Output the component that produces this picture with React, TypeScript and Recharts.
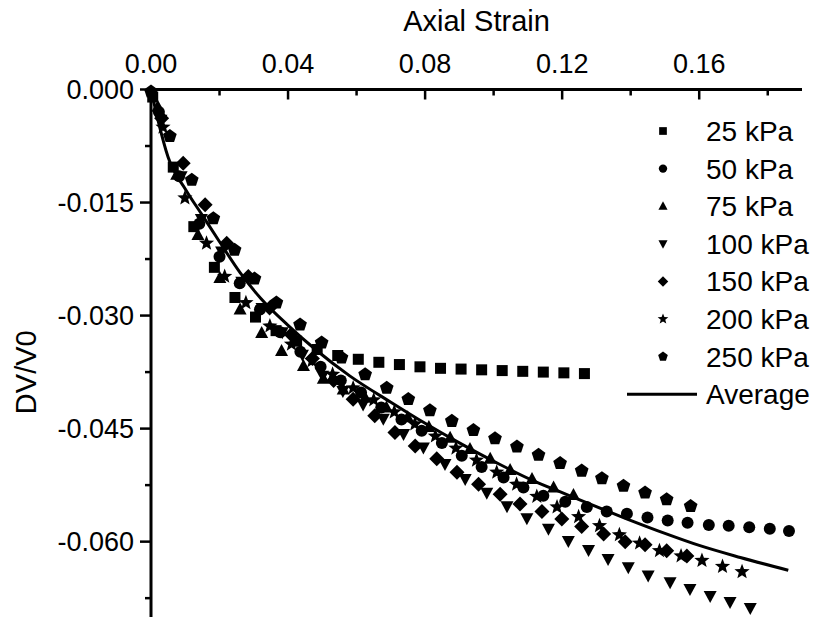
import { Label, Legend, Scatter, ScatterChart, XAxis, YAxis } from 'recharts';

const FONT = '"Liberation Sans", Arial, sans-serif';

// [axial strain, DV/V0]
const P25 = [
  [0.0005, -0.001], [0.0065, -0.0103], [0.0125, -0.0182], [0.0185, -0.0236], [0.0245, -0.0276],
  [0.0305, -0.0302], [0.0365, -0.032], [0.0425, -0.0334], [0.0485, -0.0345], [0.0545, -0.0353],
  [0.0605, -0.0358], [0.0665, -0.0362], [0.0725, -0.0365], [0.0785, -0.0368], [0.0845, -0.037],
  [0.0905, -0.0371], [0.0965, -0.0372], [0.1025, -0.0373], [0.1085, -0.0374], [0.1145, -0.0375],
  [0.1205, -0.0376], [0.1265, -0.0377],
];

const P50 = [
  [0.0023, -0.003], [0.0082, -0.0115], [0.0141, -0.0178], [0.02, -0.0222], [0.0259, -0.0257],
  [0.0318, -0.0292], [0.0377, -0.0322], [0.0436, -0.0348], [0.0495, -0.0368], [0.0554, -0.0386],
  [0.0613, -0.0402], [0.0672, -0.0422], [0.0731, -0.0438], [0.079, -0.0453], [0.0849, -0.0469],
  [0.0907, -0.0486], [0.0965, -0.0501], [0.1029, -0.0515], [0.1087, -0.0528], [0.1145, -0.0539],
  [0.1209, -0.0547], [0.1272, -0.0554], [0.133, -0.056], [0.1389, -0.0563], [0.1449, -0.0568],
  [0.1508, -0.0572], [0.1566, -0.0575], [0.1628, -0.0578], [0.1686, -0.0579], [0.1746, -0.0581],
  [0.1806, -0.0583], [0.1862, -0.0586],
];

const P75 = [
  [0.002, -0.0023], [0.0075, -0.0113], [0.0137, -0.0193], [0.0201, -0.025], [0.026, -0.0292],
  [0.0323, -0.0323], [0.0381, -0.0347], [0.0445, -0.0367], [0.0503, -0.0384], [0.0561, -0.0398],
  [0.0625, -0.0409], [0.0687, -0.0422], [0.0749, -0.0435], [0.0811, -0.0448], [0.0873, -0.0462],
  [0.0931, -0.0477], [0.099, -0.049], [0.1048, -0.0505], [0.1112, -0.0517], [0.1175, -0.0528],
  [0.1233, -0.0538],
];

const P100 = [
  [0.0029, -0.004], [0.0088, -0.0115], [0.0147, -0.0172], [0.0206, -0.0215], [0.0265, -0.0255],
  [0.0324, -0.029], [0.0383, -0.0322], [0.0442, -0.0352], [0.0501, -0.038], [0.056, -0.04],
  [0.0619, -0.0418], [0.0678, -0.0437], [0.0737, -0.0457], [0.0795, -0.0475], [0.0858, -0.0497],
  [0.0917, -0.0517], [0.098, -0.0535], [0.1039, -0.0553], [0.1097, -0.0569], [0.116, -0.0583],
  [0.1218, -0.0599], [0.1277, -0.0611], [0.1334, -0.0623], [0.1393, -0.0634], [0.1451, -0.0645],
  [0.1515, -0.0654], [0.1573, -0.0663], [0.1632, -0.0672], [0.169, -0.068], [0.1749, -0.0688],
];

const P150 = [
  [0.0031, -0.0038], [0.0094, -0.0098], [0.0158, -0.0153], [0.0221, -0.0204], [0.0284, -0.0248],
  [0.0346, -0.029], [0.0409, -0.0325], [0.0471, -0.0357], [0.0533, -0.0386], [0.059, -0.0411],
  [0.0653, -0.0433], [0.0712, -0.0455], [0.0771, -0.0473], [0.0834, -0.049], [0.0893, -0.0508],
  [0.0956, -0.0524], [0.1019, -0.0537], [0.1077, -0.055], [0.1141, -0.056], [0.1199, -0.057],
  [0.1257, -0.058], [0.1321, -0.059], [0.1384, -0.06], [0.1442, -0.0604], [0.1505, -0.0612],
  [0.1564, -0.0619],
];

const P200 = [
  [0.0035, -0.005], [0.0099, -0.0144], [0.0162, -0.0204], [0.0215, -0.0248], [0.0277, -0.0283],
  [0.0347, -0.0314], [0.041, -0.0338], [0.047, -0.036], [0.053, -0.0378], [0.059, -0.0396],
  [0.065, -0.0412], [0.071, -0.0428], [0.077, -0.0444], [0.083, -0.046], [0.089, -0.0476],
  [0.095, -0.0492], [0.1009, -0.0508], [0.1067, -0.0524], [0.1126, -0.054], [0.1185, -0.0554],
  [0.1248, -0.0567], [0.1309, -0.0579], [0.1367, -0.0591], [0.1426, -0.0602], [0.1484, -0.0612],
  [0.1547, -0.0619], [0.1608, -0.0625], [0.1668, -0.0633], [0.1725, -0.064],
];

const P250 = [
  [0, -0.0003], [0.0055, -0.0062], [0.0119, -0.012], [0.0182, -0.0171], [0.0244, -0.0213],
  [0.0302, -0.0251], [0.0366, -0.0283], [0.0435, -0.0312], [0.0498, -0.0336], [0.0556, -0.0356],
  [0.0625, -0.0378], [0.0688, -0.0396], [0.0751, -0.0411], [0.0814, -0.0426], [0.0878, -0.044],
  [0.0941, -0.0452], [0.1004, -0.0463], [0.1068, -0.0474], [0.1131, -0.0485], [0.1194, -0.0496],
  [0.1257, -0.0506], [0.1316, -0.0516], [0.1379, -0.0526], [0.1442, -0.0535], [0.1505, -0.0544],
  [0.1575, -0.0553],
];

const AVERAGE = [
  [0, 0], [0.002, -0.004], [0.005, -0.009], [0.01, -0.0132], [0.015, -0.0167], [0.02, -0.0202],
  [0.026, -0.0243], [0.032, -0.0277], [0.04, -0.0313], [0.048, -0.0345], [0.058, -0.038],
  [0.07, -0.0415], [0.08, -0.0443], [0.09, -0.0469], [0.102, -0.0498], [0.112, -0.052],
  [0.12, -0.0535], [0.128, -0.055], [0.139, -0.057], [0.15, -0.0589], [0.16, -0.0605],
  [0.172, -0.0621], [0.186, -0.0638],
];

const X_TICKS = [0, 0.02, 0.04, 0.06, 0.08, 0.1, 0.12, 0.14, 0.16, 0.18];
const Y_TICKS = [0, -0.0075, -0.015, -0.0225, -0.03, -0.0375, -0.045, -0.0525, -0.06, -0.0675];

const SERIES = [
  { name: '25 kPa', kind: 'square', data: P25 },
  { name: '50 kPa', kind: 'circle', data: P50 },
  { name: '75 kPa', kind: 'up', data: P75 },
  { name: '100 kPa', kind: 'down', data: P100 },
  { name: '150 kPa', kind: 'diamond', data: P150 },
  { name: '200 kPa', kind: 'star', data: P200 },
  { name: '250 kPa', kind: 'pentagon', data: P250 },
];

const toXY = (pts: number[][]) => pts.map(([x, y]) => ({ x, y }));

function polygon(cx: number, cy: number, n: number, rOut: number, rIn?: number) {
  const pts: string[] = [];
  const count = rIn ? n * 2 : n;
  for (let i = 0; i < count; i++) {
    const r = rIn && i % 2 === 1 ? rIn : rOut;
    const a = -Math.PI / 2 + (i * 2 * Math.PI) / count;
    pts.push(`${cx + r * Math.cos(a)},${cy + r * Math.sin(a)}`);
  }
  return pts.join(' ');
}

function Marker({ cx, cy, kind, k = 1 }: { cx: number; cy: number; kind: string; k?: number }) {
  if (cx == null || cy == null) return <g />;
  switch (kind) {
    case 'square':
      return <rect x={cx - 5.5 * k} y={cy - 5.5 * k} width={11 * k} height={11 * k} fill="#000" />;
    case 'circle':
      return <circle cx={cx} cy={cy} r={6 * k} fill="#000" />;
    case 'up':
      return <polygon points={`${cx},${cy - 7 * k} ${cx + 6.5 * k},${cy + 5 * k} ${cx - 6.5 * k},${cy + 5 * k}`} fill="#000" />;
    case 'down':
      return <polygon points={`${cx - 6.5 * k},${cy - 5 * k} ${cx + 6.5 * k},${cy - 5 * k} ${cx},${cy + 7 * k}`} fill="#000" />;
    case 'diamond':
      return <polygon points={`${cx},${cy - 7.5 * k} ${cx + 7.5 * k},${cy} ${cx},${cy + 7.5 * k} ${cx - 7.5 * k},${cy}`} fill="#000" />;
    case 'star':
      return <polygon points={polygon(cx, cy, 5, 8 * k, 3.4 * k)} fill="#000" />;
    case 'pentagon':
      return <polygon points={polygon(cx, cy, 5, 7.2 * k)} fill="#000" />;
    default:
      return <g />;
  }
}

function TopTick(props: any) {
  const { x, y, payload, index } = props;
  const major = index % 2 === 0;
  const base = y + 17;
  return (
    <g>
      <line x1={x} x2={x} y1={base} y2={base + (major ? 10 : 6)} stroke="#000" strokeWidth={2.5} />
      {major && (
        <text x={x} y={y} textAnchor="middle" fontSize={27} fontFamily={FONT} fill="#000">
          {Number(payload.value).toFixed(2)}
        </text>
      )}
    </g>
  );
}

function LeftTick(props: any) {
  const { x, y, payload, index } = props;
  const major = index % 2 === 0;
  const base = x + 17;
  return (
    <g>
      <line x1={base} x2={base - (major ? 11 : 6)} y1={y} y2={y} stroke="#000" strokeWidth={2.5} />
      {major && (
        <text x={x} y={y} dy="0.36em" textAnchor="end" fontSize={27} fontFamily={FONT} fill="#000">
          {Number(payload.value).toFixed(3)}
        </text>
      )}
    </g>
  );
}

function LegendBox() {
  const row = (i: number) => 31 + 37.6 * i;
  return (
    <svg width={226} height={320} style={{ display: 'block' }}>
      {SERIES.map((s, i) => (
        <g key={s.name}>
          <Marker cx={63} cy={row(i)} kind={s.kind} k={0.7} />
          <text x={106} y={row(i)} dy="0.36em" fontSize={28} fontFamily={FONT} fill="#000">
            {s.name}
          </text>
        </g>
      ))}
      <line x1={27} x2={97} y1={row(7)} y2={row(7)} stroke="#000" strokeWidth={3} />
      <text x={106} y={row(7)} dy="0.36em" fontSize={28} fontFamily={FONT} fill="#000">
        Average
      </text>
    </svg>
  );
}

export default function App() {
  return (
    <div style={{ position: 'absolute', left: 0, top: 0, background: '#fff' }}>
      <ScatterChart width={826} height={617} margin={{ top: 0, right: 24, bottom: 0, left: 0 }}>
        <XAxis
          type="number"
          dataKey="x"
          orientation="top"
          height={89.5}
          domain={[0, 0.19]}
          ticks={X_TICKS}
          interval={0}
          tickSize={0}
          tickMargin={17}
          tickLine={false}
          axisLine={{ stroke: '#000', strokeWidth: 3 }}
          tick={<TopTick />}
        >
          <Label
            content={({ viewBox }: any) => (
              <text x={viewBox.x + viewBox.width / 2} y={viewBox.y + 31} textAnchor="middle" fontSize={29} fontFamily={FONT} fill="#000">
                Axial Strain
              </text>
            )}
          />
        </XAxis>
        <YAxis
          type="number"
          dataKey="y"
          width={151}
          domain={[-0.07, 0]}
          ticks={Y_TICKS}
          interval={0}
          tickSize={0}
          tickMargin={17}
          tickLine={false}
          axisLine={{ stroke: '#000', strokeWidth: 3 }}
          tick={<LeftTick />}
        >
          <Label
            content={({ viewBox }: any) => {
              const cx = viewBox.x + 36;
              const cy = viewBox.y + viewBox.height / 2 + 19;
              return (
                <text x={cx} y={cy} transform={`rotate(-90 ${cx} ${cy})`} textAnchor="middle" fontSize={29} fontFamily={FONT} fill="#000">
                  DV/V0
                </text>
              );
            }}
          />
        </YAxis>
        {SERIES.map((s) => (
          <Scatter
            key={s.name}
            name={s.name}
            data={toXY(s.data)}
            isAnimationActive={false}
            shape={(p: any) => <Marker cx={p.cx} cy={p.cy} kind={s.kind} />}
          />
        ))}
        <Scatter
          name="Average"
          data={toXY(AVERAGE)}
          isAnimationActive={false}
          line={{ stroke: '#000', strokeWidth: 3 }}
          lineJointType="monotoneX"
          shape={() => <g />}
        />
        <Legend
          layout="vertical"
          align="center"
          verticalAlign="middle"
          wrapperStyle={{ position: 'absolute', left: 600, top: 100, width: 226, height: 320 }}
          content={() => <LegendBox />}
        />
      </ScatterChart>
    </div>
  );
}
